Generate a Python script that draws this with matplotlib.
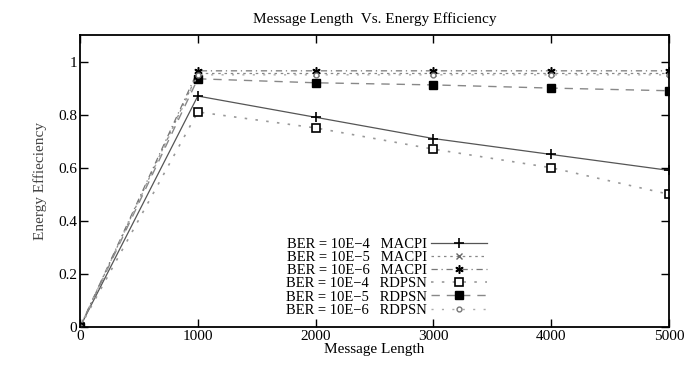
import matplotlib
matplotlib.use("Agg")
import matplotlib.pyplot as plt

plt.rcParams['font.family'] = ['Liberation Serif', 'DejaVu Serif']

lengths = [0, 1000, 2000, 3000, 4000, 5000]
macpi_e4 = [0, 0.87, 0.79, 0.71, 0.65, 0.59]
macpi_e5 = [0, 0.955, 0.955, 0.955, 0.955, 0.955]
macpi_e6 = [0, 0.965, 0.965, 0.965, 0.965, 0.965]
rdpsn_e4 = [0, 0.81, 0.75, 0.67, 0.60, 0.50]
rdpsn_e5 = [0, 0.935, 0.92, 0.912, 0.90, 0.89]
rdpsn_e6 = [0, 0.95, 0.95, 0.95, 0.95, 0.95]

labels = ["BER = 10E\u22124   MACPI", "BER = 10E\u22125   MACPI", "BER = 10E\u22126   MACPI",
          "BER = 10E\u22124   RDPSN", "BER = 10E\u22125   RDPSN", "BER = 10E\u22126   RDPSN"]

fig = plt.figure(figsize=(6.89, 3.69), dpi=100)
ax = fig.add_axes([80/689, 1-327/369, 589/689, 292/369])

lc = '#555555'
ax.plot(lengths, macpi_e4, color=lc, ls='-', lw=0.9, marker='+', ms=7, mec='black', mew=1.2, label=labels[0])
ax.plot(lengths, macpi_e5, color='#888888', ls=(0, (2, 3)), lw=0.9, marker='x', ms=4, mec='#666666', mew=1, label=labels[1])
ax.plot(lengths, macpi_e6, color='#777777', ls=(0, (5, 3, 1, 3)), lw=0.9, marker=(6, 2, 0), ms=6, mec='black', mew=1.1, label=labels[2])
ax.plot(lengths, rdpsn_e4, color='#999999', ls=(0, (1.5, 5)), lw=1.2, marker='s', ms=5.5, mfc='white', mec='black', mew=1.2, label=labels[3])
ax.plot(lengths, rdpsn_e5, color='#888888', ls=(0, (6, 5)), lw=1.0, marker='s', ms=5.5, mfc='black', mec='black', label=labels[4])
ax.plot(lengths, rdpsn_e6, color='#aaaaaa', ls=(0, (1.5, 6)), lw=1.0, marker='o', ms=3.5, mfc='white', mec='#777777', mew=1, label=labels[5])

ax.set_xlim(0, 5000)
ax.set_ylim(0, 1.1)
ax.set_xticks([0, 1000, 2000, 3000, 4000, 5000])
ax.set_yticks([0, 0.2, 0.4, 0.6, 0.8, 1])
ax.set_yticklabels(['0', '0.2', '0.4', '0.6', '0.8', '1'])
ax.tick_params(direction='in', top=True, right=True, length=6, width=1, labelsize=11, pad=2)
for s in ax.spines.values():
    s.set_linewidth(1.3)

ax.set_title("Message Length  Vs. Energy Efficiency", fontsize=11, pad=9)
ax.set_xlabel("Message Length", fontsize=11, labelpad=0)
ax.set_ylabel("Energy Effieciency", fontsize=11, labelpad=8, color='#444444')

leg = ax.legend(loc='lower center', bbox_to_anchor=(0.52, 0.0), frameon=False, markerfirst=False,
                fontsize=10.5, labelspacing=0.0, handlelength=3.8, handletextpad=0.3, borderpad=0.2)
for t in leg.get_texts():
    t.set_ha('right')

fig.savefig("out.png", dpi=100)
